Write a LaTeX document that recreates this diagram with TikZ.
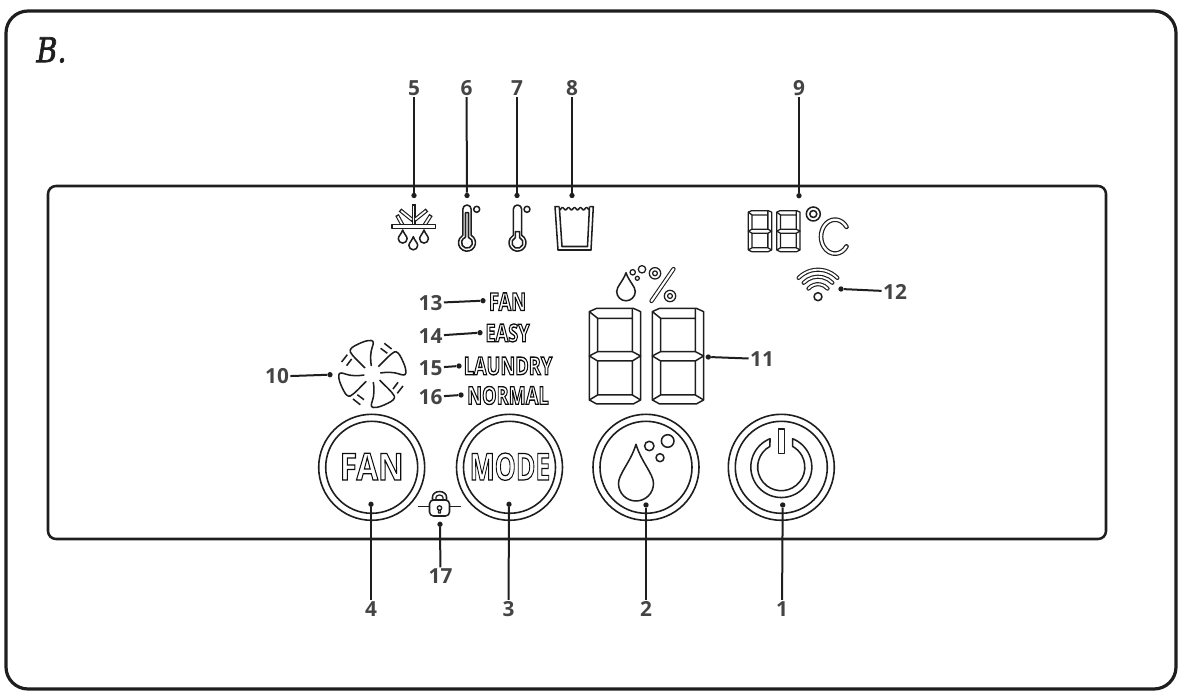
\documentclass[tikz,border=0pt]{standalone}
\usepackage{fontspec}
\setmainfont{Open Sans}
\newfontfamily\bfont{DejaVu Serif}
\usepackage{graphicx}
\definecolor{ink}{HTML}{1E1E1E}
\definecolor{lab}{HTML}{444444}
\newcommand\outl[4]{\scalebox{#3}[1]{\fontsize{#1}{#1}\selectfont\bfseries\special{pdf:code q 1 Tr #2 w 0.05 G}#4\special{pdf:code Q}}}
\tikzset{
  ico/.style={draw=ink,line width=1.15pt,line join=round},
  thin ico/.style={draw=ink,line width=.95pt,line join=round},
  ring/.style={circle,draw=ink,line width=1.2pt,inner sep=0pt},
  tag/.style={text=lab,font=\bfseries\fontsize{15.6pt}{16pt}\selectfont,inner sep=1pt},
  pt/.style={circle,fill=ink,inner sep=0pt,minimum size=4pt},
  lead/.style={draw=ink,line width=1.5pt},
  word/.style={inner sep=0pt}
}
\newcommand\segdigit[5][1.1pt]{\begin{scope}[shift={(#2,#3)},xscale=#4/3,yscale=#5/3,line width=#1,draw=ink,line join=round]
\draw (0,10)--(22,0)--(132,0)--(154,10)--(154,275)--(132,287)--(22,287)--(0,275)--cycle;
\draw (0,10)--(25,30)--(129,30) (129,0)--(129,130) (25,30)--(25,130);
\draw (0,143)--(25,130)--(129,130)--(154,143)--(129,158)--(25,158)--cycle;
\draw (25,158)--(25,260)--(129,260)--(129,158) (0,275)--(25,260) (154,275)--(129,260);
\end{scope}}
\newcommand\dropshape[5][ico]{\draw[#1] (#2,#3) .. controls ({#2-.3*#5},{#3+.45*(#4-#3)}) and ({#2-#5},{#4-.55*#5}) .. ({#2-#5},#4) arc[start angle=180,end angle=0,radius=#5] .. controls ({#2+#5},{#4-.55*#5}) and ({#2+.3*#5},{#3+.45*(#4-#3)}) .. cycle;}
\begin{document}
\begin{tikzpicture}[x=.75pt,y=.75pt,yscale=-1]
\useasboundingbox (0,0) rectangle (1186,698);
\draw[ink,line width=2.4pt,rounded corners=16.5pt] (6,11) rectangle (1176,689);
\draw[ink,line width=1.9pt,rounded corners=6pt] (48,186) rectangle (1106,539);
\node[text=ink,inner sep=0pt] (title) at (51.5,50) {\scalebox{.84}[1]{\bfont\itshape\fontsize{25.5pt}{26pt}\selectfont\special{pdf:code q 2 Tr .55 w 0.12 G}B.\special{pdf:code Q}}};
% buttons
\node[ring,minimum size=79.5pt] (b4) at (371.7,467.3) {};
\node[ring,minimum size=69pt] (b4i) at (371.7,467.3) {};
\node[ring,minimum size=79.5pt] (b3) at (509.5,467.3) {};
\node[ring,minimum size=69pt] (b3i) at (509.5,467.3) {};
\node[ring,minimum size=79.5pt] (b2) at (646,467.3) {};
\node[ring,minimum size=69pt] (b2i) at (646,467.3) {};
\node[ring,minimum size=79.5pt] (b1) at (781.3,467.3) {};
\node[ring,minimum size=69pt] (b1i) at (781.3,467.3) {};
\node[word] (wfan) at (371.7,466.7) {\outl{28pt}{.9}{.84}{FAN}};
\node[word] (wmode) at (510,466.7) {\outl{28pt}{.9}{.71}{MODE}};
% button 2 icon
\dropshape{636}{444.3}{483.5}{17.5}
\draw[ico] (649.3,446) circle (4.7) (667.7,441) circle (6.3) (660,457.7) circle (4);
% power
\draw[ico] (778.3,429) rectangle (784.3,453.3);
\draw[ico] (792.6,438.7) arc[start angle=-68.3,end angle=248.3,radius=30.5] -- (769.9,446.4) arc[start angle=241.3,end angle=-61.3,radius=23.6] -- cycle;
% lock
\draw[thin ico] (418,506.7)--(429.5,506.7) (450,506.7)--(461,506.7);
\draw[ico,rounded corners=3pt] (429.5,500) rectangle (449.5,516);
\draw[ico] (432.5,500) -- (432.5,497) arc[start angle=180,end angle=360,x radius=7,y radius=5.5] -- (446.5,500);
\draw[thin ico] (436,500) -- (436,497.5) arc[start angle=180,end angle=360,x radius=3.5,y radius=2.5] -- (443,500);
\draw[thin ico] (439.5,508) circle (2.2) (438.5,510)--(438.5,513)--(440.5,513)--(440.5,510);
% top icons: snowflake
\foreach \a/\b in {{(413.5,204.5)}/{(413.5,226)},{(413,220.5)}/{(400,210)},{(414,220.5)}/{(427,210)},{(403,226)}/{(397,215)},{(424,226)}/{(431,215)}}
  \draw[ink,line width=3pt,line cap=butt] \a -- \b;
\foreach \a/\b in {{(413.5,204.5)}/{(413.5,226)},{(413,220.5)}/{(400,210)},{(414,220.5)}/{(427,210)},{(403,226)}/{(397,215)},{(424,226)}/{(431,215)}}
  \draw[white,line width=1.3pt,shorten <=1.1pt,shorten >=1.1pt] \a -- \b;
\draw[ico,fill=white] (392,224.7) rectangle (435.5,228.3);
\dropshape{402.7}{230}{238.7}{4.4}
\dropshape{413.3}{236.7}{245.4}{4.4}
\dropshape{424}{230}{238.7}{4.4}
% thermometers
\draw[ico] (462.8,235.3) -- (462.8,209.2) arc[start angle=180,end angle=360,radius=4.2] -- (471.2,235.3) arc[start angle=-60.4,end angle=240.4,radius=8.5];
\draw[ico] (465.5,237.4) -- (465.5,212.7) -- (468.5,212.7) -- (468.5,237.4) arc[start angle=-74.2,end angle=254.2,radius=5.5];
\draw[ico] (476.7,209.3) circle (3);
\draw[ico] (513.3,235.3) -- (513.3,209.2) arc[start angle=180,end angle=360,radius=4.2] -- (521.7,235.3) arc[start angle=-60.4,end angle=240.4,radius=8.5];
\draw[ico] (515.3,237.7) -- (515.3,231.7) -- (519.7,231.7) -- (519.7,237.7) arc[start angle=-66.4,end angle=246.4,radius=5.5];
\draw[ico] (527,209.3) circle (3);
% cup
\draw[ico] (559.3,206.7)--(555,206.7)--(558,250)--(591,250)--(593.3,206.7)--(589.5,206.7);
\draw[ico] (559.3,206.7)--(562,246.5)--(587.5,246.5)--(589.5,206.7);
\draw[ico] plot[domain=0:1,samples=41] ({559.5+30*\x},{208.7+1.2*cos(5*360*\x)});
% temperature digits
\segdigit[.95pt]{748.3}{210.7}{.455}{.428}
\segdigit[.95pt]{776.7}{210.7}{.455}{.428}
\draw[ico] (813.3,214) circle (7) (813.3,214) circle (3.5);
\draw[ink,line width=3.5pt,line cap=round] (846.5,226.9) arc[start angle=-35,end angle=-325,x radius=14,y radius=17];
\draw[white,line width=1.7pt,line cap=round] (846.5,226.9) arc[start angle=-35,end angle=-325,x radius=14,y radius=17];
% wifi
\foreach \r/\s in {27/46,20/46,12.5/50}{
  \draw[ink,line width=3.1pt,line cap=round] ({818+\r*cos(270-\s)},{296.7+\r*sin(270-\s)}) arc[start angle=270-\s,end angle=270+\s,radius=\r];
  \draw[white,line width=1.4pt,line cap=round] ({818+\r*cos(270-\s)},{296.7+\r*sin(270-\s)}) arc[start angle=270-\s,end angle=270+\s,radius=\r];
}
\draw[ico] (818,296.7) circle (4);
% humidity icons
\dropshape{626}{272.7}{291.5}{9.3}
\draw[thin ico] (632.7,272.3) circle (2.7) (642,269.3) circle (3.7) (637.3,278.3) circle (2);
\draw[thin ico] (655,273.3) circle (5.7) (655,273.3) circle (2.4) (670,296) circle (5.7) (670,296) circle (2.4);
\draw[ink,line width=3.2pt,line cap=round] (673.5,269) -- (651.5,301);
\draw[white,line width=1.6pt,line cap=round] (673.5,269) -- (651.5,301);
\segdigit{589.3}{308.3}{1}{1}
\segdigit{652.3}{308.3}{1}{1}
% fan
\begin{scope}[shift={(372.3,374)}]
\foreach \ang in {0,90,180,270}{
  \begin{scope}[rotate=\ang]
  \draw[ico] (-7.3,-6) .. controls (-13,-12) and (-20,-18) .. (-22,-22) .. controls (-23,-25) and (-20,-27) .. (-16,-29) .. controls (-10,-32) and (-5,-34) .. (-1,-33.5) .. controls (2,-33) and (1,-30) .. (0,-27) .. controls (-2,-22) and (-2,-14) .. (-1,-8);
  \draw[ico] (-25.7,-8.3)--(-20.7,-15) (-30.7,-12)--(-25,-19.3);
  \end{scope}
}
\end{scope}
% text labels
\node[word] (w13) at (507.5,301.7) {\outl{18.5pt}{1}{.74}{FAN}};
\node[word] (w14) at (507.5,333) {\outl{18.5pt}{1}{.74}{EASY}};
\node[word] (w15) at (508,366) {\outl{18.5pt}{1}{.74}{LAUNDRY}};
\node[word] (w16) at (508,395.5) {\outl{18.5pt}{1}{.74}{NORMAL}};
% dots
\foreach \n/\x/\y in {d1/782.7/505,d2/646/505,d3/509/504.3,d4/371/504.3,d5/414/195.5,d6/467/195.5,d7/517/195.5,d8/572/195.5,d9/799/195.7,d10/330/374.7,d11/708.3/357,d12/841/289,d13/483/300.7,d14/480/332.7,d15/459/366,d16/461/395,d17/440/524.3}
  \node[pt] (\n) at (\x,\y) {};
% tags
\foreach \n/\x/\y in {1/782/609,2/646/609,3/508.5/609,4/371/609,5/414/88,6/466.5/88,7/517/88,8/572/88,9/799/88,10/277/376.5,11/762/359,12/895/291.5,13/430.5/303,14/430.5/336,15/430.5/368,16/430.5/397,17/440.5/576.5}
  \node[tag] (t\n) at (\x,\y) {\n};
% connectors
\foreach \n in {1,...,17} \draw[lead] (t\n) -- (d\n);
\end{tikzpicture}
\end{document}
